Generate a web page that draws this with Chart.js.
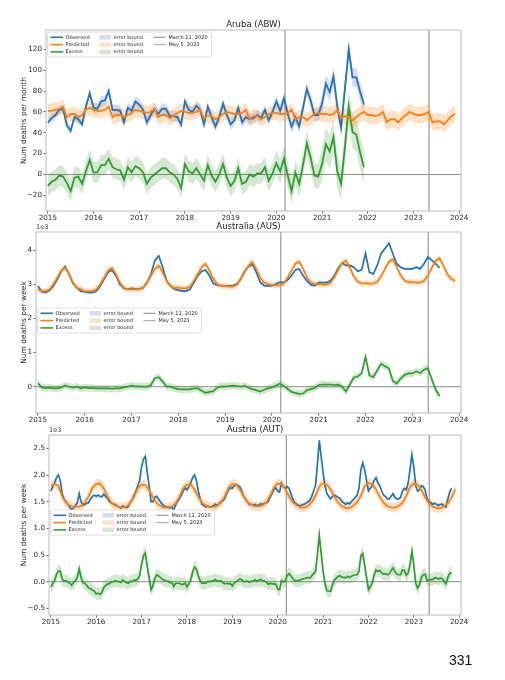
<!DOCTYPE html>
<html><head><meta charset="utf-8">
<script src="https://cdn.jsdelivr.net/npm/chart.js@4.4.1/dist/chart.umd.min.js"></script>
<style>
html,body{margin:0;padding:0;background:#fff;}
#wrap{position:relative;width:505px;height:680px;overflow:hidden;background:#fff;}
canvas{position:absolute;left:0;top:0;}
#page{position:absolute;left:449px;top:653px;font:14px "Liberation Sans",Arial,sans-serif;line-height:1;color:#111;}
</style></head><body>
<div id="wrap">
<canvas id="c1" width="505" height="680"></canvas>
<canvas id="c2" width="505" height="680"></canvas>
<canvas id="c3" width="505" height="680"></canvas>
<div id="page">331</div>
</div>
<script>
// ---------- shared axis data ----------
const xTicks = [2015,2016,2017,2018,2019,2020,2021,2022,2023,2024];
const xTickLabels = ['2015','2016','2017','2018','2019','2020','2021','2022','2023','2024'];
const eventDates = [2020.19, 2023.34];
const eventLabels = ['March 11, 2020', 'May 5, 2023'];
const legendLineLabels = ['Observed', 'Predicted', 'Excess'];
const legendBandLabel = 'error bound';

// ---------- Aruba (ABW), monthly from Jan 2015 ----------
const abwObserved = [
 50,54,57,62,63,47,42,55,53,48,65,78,
 64,63,70,71,80,62,62,61,50,64,61,70,
 67,62,50,57,63,58,63,63,56,56,55,48,
 70,62,60,66,62,48,65,55,46,55,68,57,
 48,52,64,50,55,53,54,57,54,62,52,60,
 70,61,73,58,46,55,46,64,82,71,57,57,
 68,87,79,94,65,45,82,120,93,93,79,67];
const abwPredicted = [
 61,61,62,63,65,55,58,58,55,57,62,64,
 62,61,61,62,65,55,57,57,55,57,59,62,
 61,60,59,60,63,55,57,57,54,56,59,61,
 60,59,59,60,62,54,56,56,53,55,58,60,
 59,58,58,59,62,53,56,56,53,55,58,59,
 59,58,58,59,62,53,55,55,52,55,58,59,
 58,58,57,58,62,54,56,55,52,55,58,60,
 57,57,56,57,60,50,53,53,50,54,57,60,
 58,57,57,58,60,50,51,51,48,52,56,58];
const abwExcess = [
 -11,-7,-5,-1,-2,-8,-16,-3,-2,-9,3,14,
 2,2,9,9,15,7,5,4,-5,7,2,8,
 6,2,-9,-3,0,3,6,6,2,0,-4,-13,
 10,3,1,6,0,-6,9,-1,-7,0,10,-3,
 -11,-6,6,-9,-7,0,-2,1,1,7,-6,1,
 11,3,15,-1,-16,2,-9,9,30,16,-1,-2,
 10,29,22,36,3,-9,26,65,41,38,21,7];
const abwObservedBand = [4,5,5,5,5,6,9];        // per year
const abwPredictedBand = [7,7,7,7,7,7,8,8,8];   // per year
const abwExcessBand = [10,10,10,10,10,12,16];   // per year
const abwYTicks = [-20,0,20,40,60,80,100,120];
const abwYTickLabels = ['\u221220','0','20','40','60','80','100','120'];

// ---------- Australia (AUS), monthly from Jan 2015 ----------
const ausObserved = [
 2950,2780,2760,2820,2950,3150,3380,3520,3300,3020,2900,2800,
 2780,2760,2760,2800,2950,3150,3350,3420,3250,3000,2880,2850,
 2880,2860,2860,2900,3050,3300,3700,3830,3500,3100,2950,2860,
 2830,2800,2800,2850,3050,3250,3380,3420,3250,3020,2970,2960,
 2950,2950,2960,3000,3150,3380,3520,3580,3350,3060,2960,2950,
 2960,3000,3060,3050,3120,3250,3420,3450,3250,3100,2980,2960,
 3050,3050,3050,3100,3250,3480,3620,3550,3550,3500,3380,3420,
 3900,3350,3300,3550,3900,4050,4200,3900,3600,3500,3450,3450,
 3450,3500,3450,3600,3800,3700,3600,3480];
const ausPredicted = [
 2850,2800,2800,2850,3000,3200,3400,3480,3300,3050,2900,2850,
 2800,2800,2800,2850,3000,3200,3400,3480,3300,3050,2900,2850,
 2850,2850,2850,2900,3050,3250,3450,3550,3350,3100,2950,2900,
 2900,2880,2880,2930,3100,3300,3500,3600,3400,3150,3000,2950,
 2950,2930,2930,2980,3150,3350,3550,3650,3450,3200,3050,3000,
 2980,2970,2970,3020,3180,3400,3600,3660,3450,3200,3050,3000,
 3000,2990,2990,3040,3200,3420,3620,3690,3480,3230,3080,3030,
 3030,3020,3020,3070,3230,3450,3660,3730,3510,3260,3110,3060,
 3060,3050,3050,3100,3260,3480,3690,3760,3540,3290,3150,3100];
const ausExcess = [
 100,-20,-40,-30,-50,-50,-20,40,0,-30,0,-50,
 -20,-40,-40,-50,-50,-50,-50,-60,-50,-50,-20,0,
 30,10,10,0,0,50,250,280,150,0,0,-40,
 -70,-80,-80,-80,-50,-50,-120,-180,-150,-130,-30,10,
 0,20,30,20,0,30,-30,-70,-100,-140,-90,-50,
 -20,30,90,30,-60,-150,-180,-210,-200,-100,-70,-40,
 50,60,60,60,50,60,0,-140,70,270,300,390,
 870,330,280,480,670,600,540,170,90,240,340,390,
 390,450,400,500,540,220,-90,-280];
const ausObservedBand = 35, ausPredictedBand = 90, ausExcessBand = 110;
const ausYTicks = [0,1000,2000,3000,4000];
const ausYTickLabels = ['0','1','2','3','4'];

// ---------- Austria (AUT): observed/excess twice a month, predicted monthly ----------
const autObserved = [
 1700,1780,1850,1950,2000,1900,1650,1550,1500,1450,1400,1350,1380,1420,1480,1650,1500,1430,1450,1470,1480,1550,1600,1620,
 1600,1620,1600,1590,1640,1600,1560,1500,1480,1450,1450,1420,1400,1380,1420,1400,1390,1410,1480,1530,1620,1700,1800,1900,
 2150,2300,2350,2050,1800,1500,1500,1580,1600,1550,1500,1450,1420,1400,1400,1380,1400,1350,1440,1500,1560,1620,1700,1760,
 1720,1780,1850,1950,2000,1900,1700,1550,1450,1430,1400,1420,1400,1410,1420,1450,1430,1460,1500,1520,1560,1650,1720,1760,
 1750,1800,1820,1800,1780,1700,1600,1550,1500,1450,1450,1430,1450,1420,1440,1460,1450,1470,1480,1500,1580,1650,1730,1760,
 1700,1680,1850,1780,1750,1780,1750,1650,1550,1480,1450,1430,1420,1440,1450,1470,1500,1520,1600,1700,1800,2200,2650,2350,
 2050,1800,1650,1600,1550,1600,1620,1600,1580,1560,1500,1480,1450,1480,1460,1500,1540,1580,1620,1750,2100,2230,2100,1900,
 1700,1750,1800,1900,1950,1850,1800,1700,1620,1600,1550,1550,1600,1650,1580,1550,1550,1580,1700,1750,1720,1850,2100,2380,
 2150,1800,1700,1720,1800,1780,1720,1550,1500,1480,1450,1470,1450,1430,1450,1450,1420,1400,1550,1680,1750];
const autPredicted = [
 1800,1830,1800,1600,1480,1430,1400,1400,1420,1480,1600,1760,
 1830,1840,1750,1600,1480,1430,1400,1390,1410,1470,1590,1750,
 1820,1810,1720,1580,1470,1420,1390,1390,1410,1470,1590,1750,
 1820,1820,1730,1590,1480,1430,1400,1400,1420,1480,1600,1760,
 1830,1820,1730,1600,1490,1440,1410,1410,1430,1490,1610,1770,
 1840,1830,1740,1600,1490,1430,1390,1390,1420,1490,1610,1780,
 1850,1820,1730,1590,1480,1420,1380,1380,1420,1490,1610,1790,
 1850,1830,1730,1590,1480,1420,1390,1390,1420,1480,1600,1780,
 1840,1820,1720,1580,1470,1410,1380,1380,1410,1470,1580,1730];
const autExcess = [
 -100,-35,20,135,200,200,50,10,20,-5,-30,-65,-20,20,80,240,80,-20,-30,-70,-120,-130,-160,-175,
 -230,-215,-240,-205,-110,-75,-40,-40,0,-5,20,5,0,-15,30,0,-20,-30,10,0,30,30,50,115,
 330,485,540,285,80,-150,-80,55,130,105,80,45,30,10,10,-20,-10,-90,-30,-30,-30,-50,-50,-25,
 -100,-40,30,175,270,240,110,15,-30,-25,-30,5,0,10,20,40,10,10,20,-20,-40,-30,-40,-35,
 -80,-25,0,25,50,35,0,5,10,-15,10,5,40,10,30,40,20,10,-10,-50,-30,-40,-40,-45,
 -140,-155,20,-5,10,110,150,105,60,20,20,20,30,50,60,65,80,65,110,150,190,505,870,535,
 200,-35,-170,-175,-180,-60,30,65,100,110,80,80,70,100,80,100,120,125,130,200,490,530,310,80,
 -150,-90,-30,120,220,190,210,165,140,150,130,145,210,260,190,145,130,130,220,210,120,160,320,570,
 310,-30,-120,-50,80,130,140,25,30,40,40,75,70,50,70,55,10,-40,80,155,170];
const autObservedBand = 25, autPredictedBand = 90, autExcessBand = 120;
const autYTicks = [-500,0,500,1000,1500,2000,2500];
const autYTickLabels = ['\u22120.5','0.0','0.5','1.0','1.5','2.0','2.5'];

// ---------- styling ----------
const BLUE = '#1f77b4', ORANGE = '#ff7f0e', GREEN = '#2ca02c';
const BLUE_BAND = 'rgba(70,90,235,0.22)', ORANGE_BAND = 'rgba(255,140,35,0.26)', GREEN_BAND = 'rgba(70,150,60,0.22)';
const legendLineColors = [BLUE, ORANGE, GREEN];
const legendBandColors = [BLUE_BAND, ORANGE_BAND, GREEN_BAND];
const eventColors = ['#8f8f8f', '#ababab'];
const eventWidths = [1.1, 1.5];

Chart.defaults.font.family = '"DejaVu Sans", "Liberation Sans", sans-serif';
Chart.defaults.color = '#262626';

function series(label, vals, step, band, color, bandColor, lw, order) {
  const w = (i) => (typeof band === 'number') ? band : band[Math.floor(i * step + 1e-9)];
  const xOf = (i) => 2015 + i * step;
  return [
    {label, data: vals.map((v, i) => ({x: xOf(i), y: v})), borderColor: color, borderWidth: lw,
     pointRadius: 0, fill: false, tension: 0, order},
    {label: label + ' upper', data: vals.map((v, i) => ({x: xOf(i), y: v + w(i)})), borderColor: 'rgba(0,0,0,0)',
     borderWidth: 0, pointRadius: 0, fill: false, tension: 0, order: 10 + order},
    {label: label + ' lower', data: vals.map((v, i) => ({x: xOf(i), y: v - w(i)})), borderColor: 'rgba(0,0,0,0)',
     borderWidth: 0, pointRadius: 0, fill: '-1', backgroundColor: bandColor, tension: 0, order: 10 + order}
  ];
}

const refLines = {
  id: 'refLines',
  beforeDatasetsDraw(chart) {
    const {ctx, chartArea: a, scales: {x, y}} = chart;
    ctx.save();
    ctx.beginPath(); ctx.rect(a.left, a.top, a.right - a.left, a.bottom - a.top); ctx.clip();
    const y0 = y.getPixelForValue(0);
    ctx.strokeStyle = '#8c8c8c'; ctx.lineWidth = 1;
    ctx.beginPath(); ctx.moveTo(a.left, y0); ctx.lineTo(a.right, y0); ctx.stroke();
    eventDates.forEach((d, i) => {
      const px = x.getPixelForValue(d);
      ctx.strokeStyle = eventColors[i]; ctx.lineWidth = eventWidths[i];
      ctx.beginPath(); ctx.moveTo(px, a.top); ctx.lineTo(px, a.bottom); ctx.stroke();
    });
    ctx.restore();
  }
};

const frame = {
  id: 'frame',
  afterDatasetsDraw(chart, args, opts) {
    const {ctx, chartArea: a} = chart;
    ctx.save();
    ctx.strokeStyle = '#bdbdbd'; ctx.lineWidth = 1;
    ctx.strokeRect(a.left, a.top, a.right - a.left, a.bottom - a.top);
    if (opts.note) {
      ctx.fillStyle = '#333'; ctx.font = '6.5px "DejaVu Sans", sans-serif';
      ctx.textBaseline = 'bottom'; ctx.textAlign = 'left';
      ctx.fillText(opts.note, a.left, a.top - 1.5);
    }
    ctx.restore();
  }
};

const mplLegend = {
  id: 'mplLegend',
  afterDraw(chart, args, opts) {
    const {ctx, chartArea: a} = chart;
    const x0 = a.left + 1.5, y0 = a.top + opts.dy, w = 164, h = 25;
    ctx.save();
    ctx.beginPath();
    if (ctx.roundRect) ctx.roundRect(x0, y0, w, h, 2); else ctx.rect(x0, y0, w, h);
    ctx.fillStyle = 'rgba(255,255,255,0.82)'; ctx.fill();
    ctx.strokeStyle = '#d8d8d8'; ctx.lineWidth = 0.8; ctx.stroke();
    ctx.font = '5px "DejaVu Sans", sans-serif';
    ctx.textBaseline = 'middle'; ctx.textAlign = 'left';
    const rowY = r => y0 + 5.3 + r * 7.3;
    const seg = (xa, xb, yy) => { ctx.beginPath(); ctx.moveTo(xa, yy); ctx.lineTo(xb, yy); ctx.stroke(); };
    legendLineLabels.forEach((t, r) => {
      ctx.strokeStyle = legendLineColors[r]; ctx.lineWidth = 1.6;
      seg(x0 + 3, x0 + 15.5, rowY(r));
      ctx.fillStyle = '#222'; ctx.fillText(t, x0 + 18, rowY(r));
    });
    legendBandColors.forEach((c, r) => {
      ctx.fillStyle = c; ctx.fillRect(x0 + 52, rowY(r) - 2.3, 11.5, 4.6);
      ctx.fillStyle = '#222'; ctx.fillText(legendBandLabel, x0 + 66, rowY(r));
    });
    eventLabels.forEach((t, r) => {
      ctx.strokeStyle = eventColors[r]; ctx.lineWidth = 1.1;
      seg(x0 + 106, x0 + 118, rowY(r));
      ctx.fillStyle = '#222'; ctx.fillText(t, x0 + 121, rowY(r));
    });
    ctx.restore();
  }
};

const PADL = 19.5, TITLE_H = 10.2, XAXIS_H = 12;
const tickGrid = {display: true, drawOnChartArea: false, drawTicks: true, tickLength: 2.5, tickColor: '#444', tickWidth: 0.8};

function makeChart(id, o) {
  const a = o.area;
  return new Chart(document.getElementById(id), {
    type: 'line',
    data: {datasets: o.datasets},
    options: {
      responsive: false, animation: false, events: [],
      layout: {padding: {left: PADL, top: a.t - TITLE_H, right: 505 - a.r, bottom: 680 - a.b - XAXIS_H}},
      plugins: {
        legend: {display: false}, tooltip: {enabled: false},
        title: {display: true, text: o.title, fullSize: false, padding: 0, color: '#1a1a1a',
                font: {size: 8.5, weight: 'normal', lineHeight: 1.2}},
        mplLegend: {dy: o.legendDy},
        frame: {note: o.note}
      },
      scales: {
        x: {type: 'linear', min: 2014.96, max: 2024.04,
            afterBuildTicks: s => { s.ticks = xTicks.map(v => ({value: v})); },
            afterFit: s => { s.height = XAXIS_H; },
            ticks: {autoSkip: false, maxRotation: 0, minRotation: 0, padding: 0.5, font: {size: 7.2},
                    callback: (v, i) => xTickLabels[i]},
            grid: tickGrid, border: {display: false}},
        y: {type: 'linear', min: o.yMin, max: o.yMax,
            afterBuildTicks: s => { s.ticks = o.yTicks.map(v => ({value: v})); },
            afterFit: s => { s.width = a.l - PADL; },
            ticks: {autoSkip: false, padding: 1.5, font: {size: 7.2}, callback: (v, i) => o.yTickLabels[i]},
            grid: tickGrid, border: {display: false},
            title: {display: true, text: o.yTitle, padding: 0, font: {size: 7.5}}}
      }
    },
    plugins: [refLines, frame, mplLegend]
  });
}

makeChart('c1', {
  title: 'Aruba (ABW)', yTitle: 'Num deaths per month', area: {l: 46, t: 30, r: 461, b: 211},
  yMin: -35, yMax: 138.5, yTicks: abwYTicks, yTickLabels: abwYTickLabels, legendDy: 2, note: '',
  datasets: [
    ...series('Predicted', abwPredicted, 1/12, abwPredictedBand, ORANGE, ORANGE_BAND, 1.8, 0),
    ...series('Observed', abwObserved, 1/12, abwObservedBand, BLUE, BLUE_BAND, 1.8, 1),
    ...series('Excess', abwExcess, 1/12, abwExcessBand, GREEN, GREEN_BAND, 1.8, 2)
  ]
});

makeChart('c2', {
  title: 'Australia (AUS)', yTitle: 'Num deaths per week', area: {l: 36, t: 232, r: 461, b: 413},
  yMin: -770, yMax: 4530, yTicks: ausYTicks, yTickLabels: ausYTickLabels, legendDy: 76, note: '1e3',
  datasets: [
    ...series('Predicted', ausPredicted, 1/12, ausPredictedBand, ORANGE, ORANGE_BAND, 1.7, 0),
    ...series('Observed', ausObserved, 1/12, ausObservedBand, BLUE, BLUE_BAND, 1.7, 1),
    ...series('Excess', ausExcess, 1/12, ausExcessBand, GREEN, GREEN_BAND, 1.7, 2)
  ]
});

makeChart('c3', {
  title: 'Austria (AUT)', yTitle: 'Num deaths per week', area: {l: 49, t: 435, r: 461, b: 615},
  yMin: -625, yMax: 2750, yTicks: autYTicks, yTickLabels: autYTickLabels, legendDy: 75, note: '1e3',
  datasets: [
    ...series('Predicted', autPredicted, 1/12, autPredictedBand, ORANGE, ORANGE_BAND, 1.7, 0),
    ...series('Observed', autObserved, 1/24, autObservedBand, BLUE, BLUE_BAND, 1.7, 1),
    ...series('Excess', autExcess, 1/24, autExcessBand, GREEN, GREEN_BAND, 1.7, 2)
  ]
});
</script>
</body></html>
